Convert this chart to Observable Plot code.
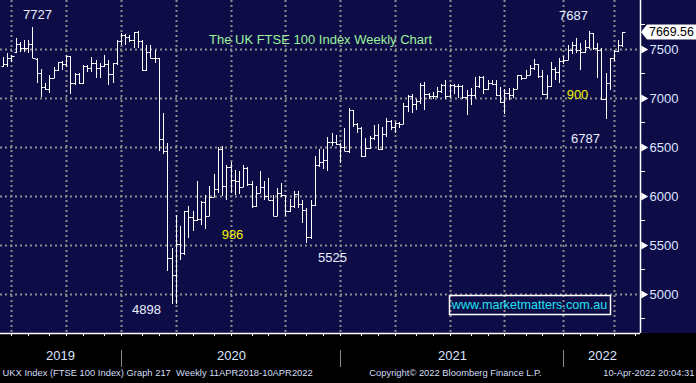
<!DOCTYPE html>
<html><head><meta charset="utf-8">
<script src="https://cdn.jsdelivr.net/npm/d3@7"></script>
<script src="https://cdn.jsdelivr.net/npm/@observablehq/plot@0.6"></script>
<style>
html,body{margin:0;padding:0;background:#000;}
#chart svg{display:block;}
</style></head><body><div id="chart"></div>
<script>
// Weekly bars, first week ending Friday 14 Jun 2019
const firstWeek = "2019-06-14";
const opens = [7331,7346,7407,7470,7553,7506,7509,7549,7400,7254,7117,7095,7207,7287,7367,7345,7426,7155,7247,7150,7324,7302,7359,7303,7327,7347,7240,7353,7582,7644,7622,7588,7675,7586,7286,7466,7409,7404,6581,6462,5366,5191,5510,5416,5843,5787,5752,5763,5936,5800,5993,6076,6484,6105,6292,6159,6157,6095,6290,6123,5898,6032,6090,6002,5964,5799,6032,6007,5843,5902,6017,5920,5860,5577,5910,6316,6351,6367,6550,6547,6529,6502,6461,6873,6735,6695,6407,6489,6589,6624,6483,6631,6761,6709,6741,6737,6916,7020,6938,6970,7130,7044,7018,7023,7069,7134,7017,7136,7123,7122,7008,7028,7032,7123,7219,7087,7148,7138,7029,6964,7051,7027,7095,7234,7205,7238,7304,7348,7224,7044,7122,7292,7270,7373,7385,7485,7543,7494,7466,7516,7661,7513,7489,6987,7156,7405,7483,7538];
const highs = [7420,7460,7440,7610,7575,7590,7590,7727,7410,7300,7155,7236,7320,7372,7375,7440,7430,7253,7255,7338,7338,7422,7389,7355,7440,7389,7360,7592,7660,7650,7643,7677,7680,7590,7541,7541,7490,7410,6850,6545,5466,5810,5690,5850,5894,5843,6150,5945,6013,6098,6227,6500,6513,6319,6343,6268,6253,6319,6300,6149,6100,6250,6150,6183,6013,6081,6132,6013,5969,6047,6047,5962,5877,5962,6404,6479,6479,6600,6640,6625,6540,6690,6903,6880,6740,6700,6591,6608,6720,6735,6700,6794,6777,6760,6760,6947,7032,7040,6990,7151,7165,7055,7060,7117,7140,7180,7140,7140,7140,7135,7083,7100,7219,7226,7225,7185,7185,7185,7117,7090,7100,7100,7236,7236,7287,7338,7395,7350,7290,7236,7370,7320,7405,7430,7541,7575,7609,7560,7590,7687,7661,7565,7507,7253,7410,7490,7592,7670];
const lows = [7315,7320,7372,7456,7473,7473,7456,7405,7151,7015,7083,7049,7202,7280,7290,7321,7040,7134,7140,7145,7270,7270,7202,7202,7321,7134,7151,7338,7541,7541,7575,7507,7507,7280,7280,7405,7355,6455,6430,5237,4898,4899,5351,5401,5572,5640,5741,5707,5663,5795,5990,6030,5996,5955,6030,6013,6020,6090,6100,5877,5890,6030,5960,5960,5792,5795,5990,5792,5835,5880,5877,5724,5525,5560,5900,6300,6278,6260,6510,6516,6336,6455,6440,6700,6640,6400,6400,6480,6570,6470,6470,6600,6670,6645,6690,6730,6860,6843,6879,6940,6880,6990,6990,7000,7049,6990,7000,7040,7000,6990,6830,6930,7000,7100,7040,7080,7130,7020,6947,6840,6980,7000,7090,7185,7202,7230,7290,7202,7032,6988,7110,7180,7151,7350,7384,7450,7456,7287,7460,7500,7490,7206,6981,6787,7083,7380,7470,7524];
const closes = [7346,7407,7426,7553,7506,7509,7549,7407,7254,7117,7095,7207,7282,7367,7345,7426,7155,7247,7150,7324,7302,7359,7303,7327,7347,7240,7353,7582,7645,7622,7588,7675,7586,7286,7466,7409,7404,6581,6462,5366,5191,5510,5416,5843,5787,5752,5763,5936,5800,5993,6076,6484,6105,6292,6159,6157,6095,6290,6123,5898,6032,6090,6002,5964,5799,6032,6007,5843,5902,6017,5920,5860,5577,5910,6316,6351,6367,6550,6547,6529,6502,6461,6873,6735,6695,6407,6489,6589,6624,6483,6631,6761,6709,6741,6737,6916,7020,6938,6970,7130,7044,7018,7023,7069,7134,7017,7136,7123,7122,7008,7028,7032,7123,7219,7087,7148,7138,7029,6964,7051,7027,7095,7234,7205,7238,7304,7348,7224,7044,7122,7292,7270,7373,7385,7485,7543,7494,7466,7516,7661,7513,7489,6987,7156,7405,7483,7538,7669.56];

const yMajorTicks = [5000, 5500, 6000, 6500, 7000, 7500];
const yMinorTicks = [4750, 5250, 5750, 6250, 6750, 7250, 7750];
const yearNames = ["2019", "2020", "2021", "2022"];
const lastPrice = 7669.56;
const lastPriceLabel = "7669.56";

const levelNotes = [
  {text: "7727", x: 8, y: 7862},
  {text: "7687", x: 135.2, y: 7847},
  {text: "6787", x: 138, y: 6594},
  {text: "5525", x: 78, y: 5381},
  {text: "4898", x: 34, y: 4851}
];
const pointNotes = [
  {text: "900", x: 136.3, y: 7042},
  {text: "986", x: 54.3, y: 5615}
];
const titleNote = {text: "The UK FTSE 100 Index Weekly Chart", x: 75.3, y: 7603};
const siteNote = {text: "www.marketmatters.com.au", x: 124.9, y: 4902};
const footerLeft = "UKX Index (FTSE 100 Index) Graph 217  Weekly 11APR2018-10APR2022";
const footerMid = "Copyright\u00A9 2022 Bloomberg Finance L.P.";
const footerRight = "10-Apr-2022 20:04:31";

const X_DOMAIN = [-0.712, 151.16];
const Y_DOMAIN = [4602, 8000];

// calendar of weekly bars (Fridays), extended over the visible axis
const start = new Date(firstWeek + "T00:00:00Z");
const fridays = d3.utcFriday.range(start, d3.utcFriday.offset(start, 152));
const bars = closes.map((c, i) => ({i, date: fridays[i], open: opens[i], high: highs[i], low: lows[i], close: c}));

// month ticks: at last bar of previous month
const monthTicks = [];
for (let i = 1; i < fridays.length; i++) {
  if (fridays[i].getUTCMonth() !== fridays[i - 1].getUTCMonth()) monthTicks.push({idx: i - 1, month: fridays[i].getUTCMonth()});
}
const quarterTicks = monthTicks.filter(d => d.month % 3 === 0).map(d => d.idx);
const yearTicks = monthTicks.filter(d => d.month === 0).map(d => d.idx);
const bounds = [X_DOMAIN[0], ...yearTicks, X_DOMAIN[1]];
const yearLabels = yearNames.map((name, k) => ({label: name, x: (bounds[k] + bounds[k + 1]) / 2}));

const axisColor = "#dde6ff";
const gridStyle = {stroke: "#8e8e8e", strokeWidth: 2, strokeDasharray: "2,3"};
const font = "'Liberation Sans', Arial, sans-serif";
const footStyle = {fill: "#d3ddf5", fontSize: 9.4, dy: 42};

const plot = Plot.plot({
  width: 696, height: 383,
  marginLeft: 0, marginRight: 56, marginTop: 0, marginBottom: 50,
  x: {type: "linear", domain: X_DOMAIN, axis: null, round: true},
  y: {domain: Y_DOMAIN, axis: null, round: true},
  style: {background: "linear-gradient(#0e0c47 333px, #000 333px)", color: "white", fontFamily: font, fontSize: "13px", overflow: "visible"},
  marks: [
    Plot.ruleY(yMajorTicks, gridStyle),
    Plot.ruleX(quarterTicks, gridStyle),
    Plot.ruleX(bars, {x: "i", y1: "low", y2: "high", stroke: "white", strokeWidth: 1}),
    Plot.link(bars, {x1: d => d.i - 0.5, x2: "i", y1: "open", y2: "open", stroke: "white", strokeWidth: 1}),
    Plot.link(bars, {x1: "i", x2: d => d.i + 0.5, y1: "close", y2: "close", stroke: "white", strokeWidth: 1}),
    Plot.ruleY([Y_DOMAIN[0]], {stroke: "white", strokeWidth: 1.5}),
    Plot.ruleX([X_DOMAIN[1]], {stroke: "white", strokeWidth: 1.5}),
    Plot.axisY(yMinorTicks, {anchor: "right", tickSize: 4, tickFormat: () => "", stroke: "white", label: null}),
    Plot.axisY(yMajorTicks, {anchor: "right", tickSize: 0, tickPadding: 9, tickFormat: d => String(d), fill: axisColor, fontSize: 13, label: null}),
    Plot.dot(yMajorTicks, {y: d => d, frameAnchor: "right", dx: 3, symbol: "triangle", rotate: 90, r: 3, fill: "white", stroke: null}),
    Plot.axisX(monthTicks.map(d => d.idx), {anchor: "bottom", tickSize: 3, tickFormat: () => "", stroke: "white", label: null}),
    Plot.axisX(yearTicks, {anchor: "bottom", tickSize: 17, dy: 17, tickFormat: () => "", stroke: "#8a8a8a", label: null}),
    Plot.text(yearLabels, {x: "x", text: "label", frameAnchor: "bottom", dy: 26, fill: axisColor, fontSize: 13}),
    Plot.text(levelNotes, {x: "x", y: "y", text: "text", fill: "#e8efff", fontSize: 13}),
    Plot.text(pointNotes, {x: "x", y: "y", text: "text", fill: "#f2f200", fontSize: 13}),
    Plot.text([titleNote], {x: "x", y: "y", text: "text", fill: "#9cf29c", fontSize: 13}),
    Plot.text([siteNote], {x: "x", y: "y", text: "text", fill: "#1fe3f0", fontSize: 12.6}),
    Plot.text([footerLeft], {text: d => d, frameAnchor: "bottom-left", textAnchor: "start", dx: 2, ...footStyle}),
    Plot.text([footerMid], {text: d => d, frameAnchor: "bottom", textAnchor: "middle", dx: 135, ...footStyle}),
    Plot.text([footerRight], {text: d => d, frameAnchor: "bottom-right", textAnchor: "end", dx: 54, ...footStyle})
  ]
});
document.getElementById("chart").appendChild(plot);

const svg = d3.select(plot);
const sy = plot.scale("y");
const sx = plot.scale("x");

// last price tag on the right axis, positioned by the y scale
const yp = Math.round(sy.apply(lastPrice));
const xr = Math.round(sx.apply(X_DOMAIN[1]));
const tag = svg.append("g");
tag.append("path")
  .attr("d", `M${xr + 1},${yp} L${xr + 7},${yp - 7.5} L696,${yp - 7.5} L696,${yp + 7.5} L${xr + 7},${yp + 7.5} Z`)
  .attr("fill", "white");
tag.append("text").attr("x", xr + 9).attr("y", yp).attr("dy", "0.35em")
  .attr("text-anchor", "start")
  .attr("fill", "black").attr("font-size", 12.4).attr("font-family", font).text(lastPriceLabel);

// box round the website note, centred on the note's scaled position
svg.selectAll("text").filter(function() { return this.textContent === siteNote.text; }).each(function() {
  const b = this.getBBox();
  const cx = sx.apply(siteNote.x), cy = sy.apply(siteNote.y);
  const w = Math.round(b.width) + 5, h = 19;
  svg.append("rect").attr("x", Math.round(cx - w / 2) + 0.5).attr("y", Math.round(cy - h / 2) + 0.5)
    .attr("width", w).attr("height", h)
    .attr("fill", "none").attr("stroke", "white").attr("stroke-width", 1.5);
});
</script></body></html>
